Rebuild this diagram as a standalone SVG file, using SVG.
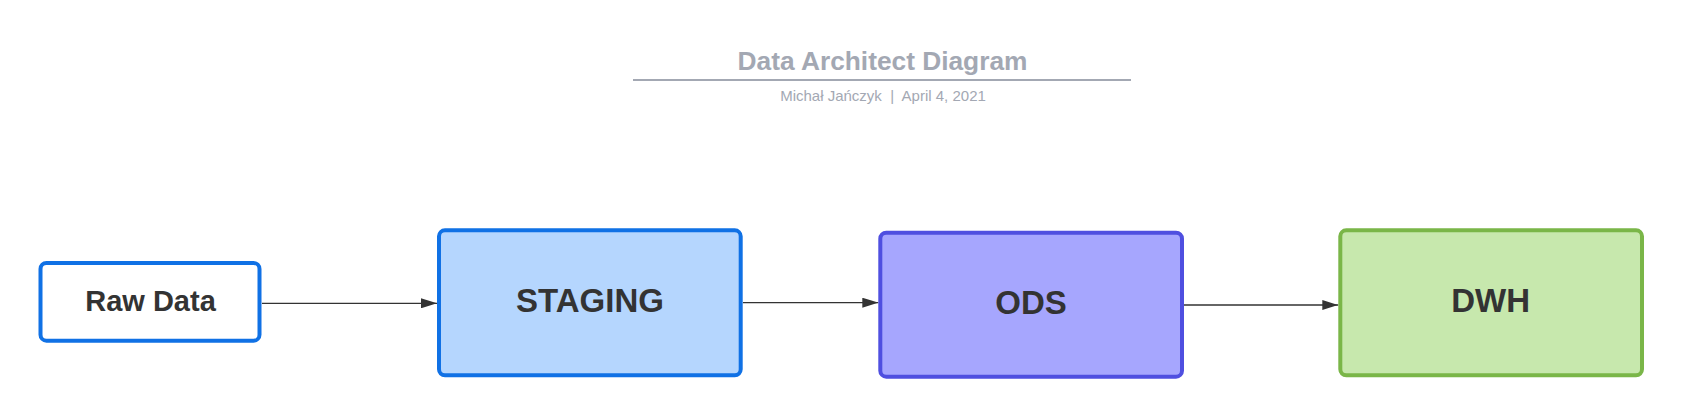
<svg xmlns="http://www.w3.org/2000/svg" width="1683" height="419" viewBox="0 0 1683 419">
<style>
.node{stroke-width:4}
.lbl{font-family:"Liberation Sans",Arial,sans-serif;font-weight:bold;fill:#333333;text-anchor:middle}
.conn{stroke:#333333;stroke-width:1.3;fill:none}
.title{font-family:"Liberation Sans",Arial,sans-serif;font-weight:bold;font-size:26.3px;fill:#a3a8b3;text-anchor:middle}
.sub{font-family:"Liberation Sans",Arial,sans-serif;font-size:15px;fill:#a3a8b3;text-anchor:middle;white-space:pre}
</style>
<defs>
<marker id="arrow" markerWidth="16" markerHeight="10" refX="16" refY="5" orient="auto" markerUnits="userSpaceOnUse">
<path d="M0,0 L16,5 L0,10 z" fill="#333333"/>
</marker>
</defs>
<rect width="1683" height="419" fill="#ffffff"/>
<g id="title">
<text class="title" x="882.5" y="70">Data Architect Diagram</text>
<line x1="633" y1="80" x2="1131" y2="80" stroke="#a3a8b3" stroke-width="2"/>
<text class="sub" x="883" y="100.5" xml:space="preserve">Michał Jańczyk  |  April 4, 2021</text>
</g>
<g id="connectors">
<line class="conn" x1="262" y1="303.3" x2="437" y2="303.3" marker-end="url(#arrow)"/>
<line class="conn" x1="743" y1="302.7" x2="878.3" y2="302.7" marker-end="url(#arrow)"/>
<line class="conn" x1="1184" y1="305" x2="1338.3" y2="305" marker-end="url(#arrow)"/>
</g>
<g id="raw-data">
<rect class="node" x="40.5" y="263" width="219" height="77.7" rx="6" fill="#ffffff" stroke="#1071e5"/>
<text class="lbl" x="150.5" y="310.5" font-size="29">Raw Data</text>
</g>
<g id="staging">
<rect class="node" x="439" y="230.3" width="301.7" height="145" rx="6" fill="#b5d6fe" stroke="#1071e5"/>
<text class="lbl" x="590" y="311.7" font-size="33">STAGING</text>
</g>
<g id="ods">
<rect class="node" x="880.3" y="232.7" width="301.7" height="144" rx="6" fill="#a6a6fe" stroke="#4f4fe0"/>
<text class="lbl" x="1031" y="314" font-size="33">ODS</text>
</g>
<g id="dwh">
<rect class="node" x="1340.3" y="230.3" width="301.7" height="145" rx="6" fill="#c7e8ad" stroke="#7ab648"/>
<text class="lbl" x="1490.7" y="311.7" font-size="33">DWH</text>
</g>
</svg>
